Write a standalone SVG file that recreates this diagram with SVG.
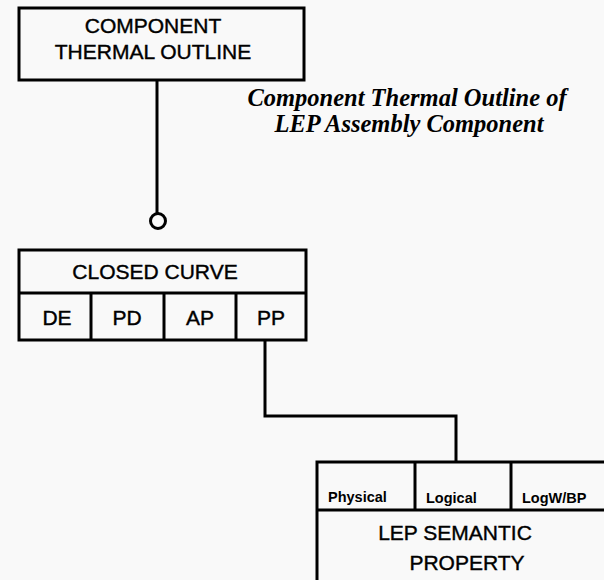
<svg xmlns="http://www.w3.org/2000/svg" width="604" height="580" viewBox="0 0 604 580">
<style>
.box{fill:none;stroke:#000;stroke-width:3}
.ln{fill:none;stroke:#000;stroke-width:3}
.t{font-family:"Liberation Sans",Arial,sans-serif;font-size:21px;fill:#000;stroke:#000;stroke-width:0.4}
.s{font-family:"Liberation Sans",Arial,sans-serif;font-size:14.5px;font-weight:bold;fill:#000}
.it{font-family:"Liberation Serif","Times New Roman",serif;font-size:24.5px;font-style:italic;font-weight:bold;fill:#000}
</style>
<rect width="604" height="580" fill="#f9f9f9"/>
<g id="connectors">
<line class="ln" x1="157" y1="80" x2="157" y2="213"/>
<circle class="ln" cx="158" cy="221" r="7.5"/>
<polyline class="ln" points="265,340 265,416 456,416 456,462"/>
</g>
<g id="component-thermal-outline">
<rect class="box" x="19" y="8" width="285" height="72"/>
<text class="t" x="153" y="33" text-anchor="middle">COMPONENT</text>
<text class="t" x="153" y="59" text-anchor="middle">THERMAL OUTLINE</text>
</g>
<g id="caption">
<text class="it" x="407" y="106" text-anchor="middle">Component Thermal Outline of</text>
<text class="it" x="409" y="132" text-anchor="middle">LEP Assembly Component</text>
</g>
<g id="closed-curve">
<rect class="box" x="19" y="250" width="287" height="90"/>
<line class="ln" x1="19" y1="293" x2="306" y2="293"/>
<line class="ln" x1="91" y1="293" x2="91" y2="340"/>
<line class="ln" x1="164" y1="293" x2="164" y2="340"/>
<line class="ln" x1="236" y1="293" x2="236" y2="340"/>
<text class="t" x="155" y="279" text-anchor="middle">CLOSED CURVE</text>
<text class="t" x="57" y="325" text-anchor="middle">DE</text>
<text class="t" x="127" y="325" text-anchor="middle">PD</text>
<text class="t" x="200" y="325" text-anchor="middle">AP</text>
<text class="t" x="271" y="325" text-anchor="middle">PP</text>
</g>
<g id="lep-semantic-property">
<rect class="box" x="317" y="462" width="300" height="130"/>
<line class="ln" x1="317" y1="510" x2="604" y2="510"/>
<line class="ln" x1="415" y1="462" x2="415" y2="510"/>
<line class="ln" x1="511" y1="462" x2="511" y2="510"/>
<text class="s" x="328" y="502">Physical</text>
<text class="s" x="426" y="503">Logical</text>
<text class="s" x="522" y="503">LogW/BP</text>
<text class="t" x="455" y="540" text-anchor="middle">LEP SEMANTIC</text>
<text class="t" x="467" y="570" text-anchor="middle">PROPERTY</text>
</g>
</svg>
